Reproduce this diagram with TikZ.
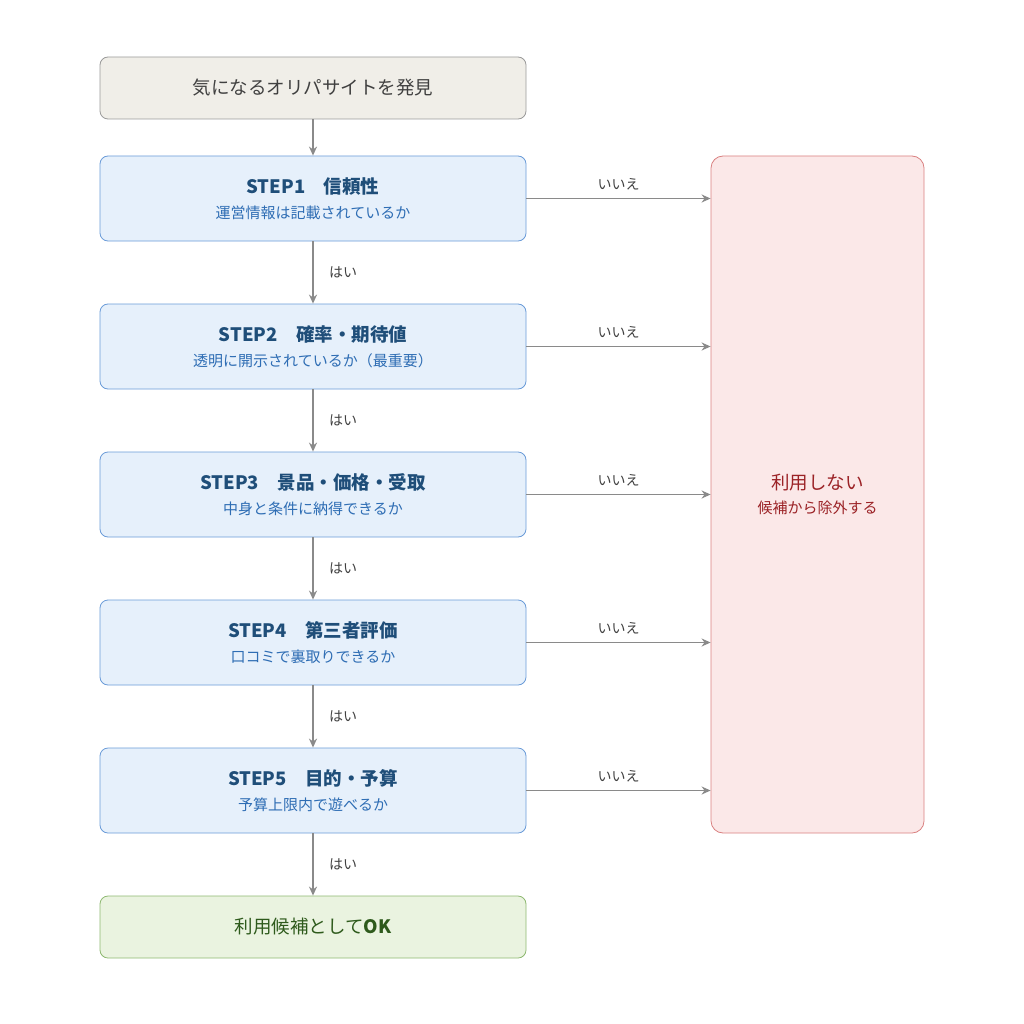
\documentclass[tikz,border=0pt]{standalone}
\usepackage{fontspec}
\setmainfont{Noto Sans CJK JP}
\usetikzlibrary{arrows.meta}
\definecolor{stepfill}{HTML}{E6F0FB}\definecolor{stepdraw}{HTML}{6A9BD8}
\definecolor{steptitle}{HTML}{1F4E79}\definecolor{stepsub}{HTML}{2E6DB4}
\definecolor{topfill}{HTML}{F0EEE8}\definecolor{topdraw}{HTML}{9A9A9A}
\definecolor{okfill}{HTML}{EAF3E0}\definecolor{okdraw}{HTML}{8DB870}\definecolor{oktext}{HTML}{2E5A1C}
\definecolor{nofill}{HTML}{FBE8E8}\definecolor{nodraw}{HTML}{D98080}\definecolor{notext}{HTML}{9B2226}
\definecolor{arr}{HTML}{8A8A8A}
\begin{document}
\begin{tikzpicture}[x=1pt,y=-1pt,
 box/.style={rounded corners=8pt,line width=0.8pt,minimum width=426pt,inner sep=0pt,align=center},
 stepbox/.style={box,fill=stepfill,draw=stepdraw,minimum height=85pt},
 ar/.style={draw=arr,line width=1.8pt,-{Stealth[length=9pt,width=8pt]}},
 lab/.style={font=\fontsize{14}{16}\selectfont,text=black!75}]
\useasboundingbox (0,0) rectangle (1024,1024);
\newcommand{\stp}[3]{{\fontsize{18.5}{22}\selectfont\bfseries\color{steptitle}#1\quad #2}\\[9pt]{\fontsize{15}{18}\selectfont\color{stepsub}#3}}
\node[box,fill=topfill,draw=topdraw,minimum height=62pt,font=\fontsize{18.5}{22}\selectfont,text=black!75] (top) at (313,88) {気になるオリパサイトを発見};
\node[stepbox] (s1) at (313,198.5) {\stp{STEP1}{信頼性}{運営情報は記載されているか}};
\node[stepbox] (s2) at (313,346.5) {\stp{STEP2}{確率・期待値}{透明に開示されているか（最重要）}};
\node[stepbox] (s3) at (313,494.5) {\stp{STEP3}{景品・価格・受取}{中身と条件に納得できるか}};
\node[stepbox] (s4) at (313,642.5) {\stp{STEP4}{第三者評価}{口コミで裏取りできるか}};
\node[stepbox] (s5) at (313,790.5) {\stp{STEP5}{目的・予算}{予算上限内で遊べるか}};
\node[box,fill=okfill,draw=okdraw,minimum height=62pt,font=\fontsize{18.5}{22}\selectfont,text=oktext] (ok) at (313,927) {利用候補として\textbf{OK}};
\node[rounded corners=12pt,line width=0.8pt,fill=nofill,draw=nodraw,minimum width=213pt,minimum height=677pt,align=center] (no) at (817.5,494.5)
 {{\fontsize{18.5}{22}\selectfont\color{notext}利用しない}\\[9pt]{\fontsize{15}{18}\selectfont\color{notext}候補から除外する}};
\draw[ar] (top) -- (s1);
\foreach \a/\b in {s1/s2,s2/s3,s3/s4,s4/s5,s5/ok}{
 \draw[ar] (\a) -- node[lab,right=12pt]{はい} (\b);}
\foreach \s in {s1,s2,s3,s4,s5}{
 \draw[ar] (\s.east) -- node[lab,above=4pt]{いいえ} (\s.east -| no.west);}
\end{tikzpicture}
\end{document}
